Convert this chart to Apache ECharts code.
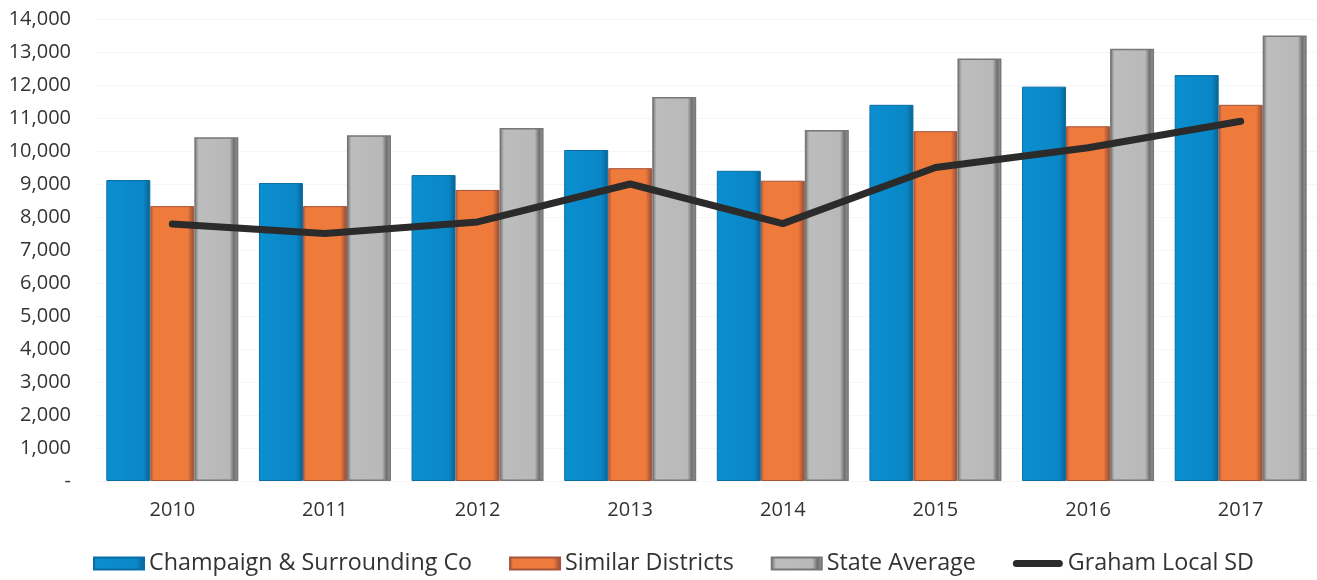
<!DOCTYPE html>
<html><head><meta charset="utf-8">
<script src="https://cdn.jsdelivr.net/npm/echarts@6/dist/echarts.min.js"></script>
<style>html,body{margin:0;padding:0;background:#fff}#c{width:1317px;height:580px}</style>
</head><body><div id="c"></div>
<script>
const categories = ['2010','2011','2012','2013','2014','2015','2016','2017'];
const champaign = [9120, 9030, 9270, 10030, 9400, 11400, 11950, 12300];
const similar = [8330, 8330, 8820, 9480, 9100, 10600, 10750, 11400];
const stateAvg = [10420, 10480, 10700, 11640, 10640, 12800, 13100, 13500];
const graham = [7790, 7500, 7850, 9000, 7800, 9500, 10100, 10900];
const yTicks = {min: 0, max: 14000, interval: 1000};

const chart = echarts.init(document.getElementById('c'));
const font = 'Open Sans';
chart.setOption({
  animation: false,
  textStyle: {fontFamily: font},
  grid: {left: 96, right: 0, top: 19, bottom: 99, containLabel: false},
  legend: {
    left: 88, top: 547, itemWidth: 50, itemHeight: 12, itemGap: 37,
    textStyle: {fontSize: 23.3, color: '#333', fontFamily: font},
    data: [
      {name: 'Champaign & Surrounding Co', icon: 'rect'},
      {name: 'Similar Districts', icon: 'rect'},
      {name: 'State Average', icon: 'rect'},
      {name: 'Graham Local SD',
        icon: 'path://M3.5,0 H46.5 A3.5,3.5 0 0 1 46.5,7 H3.5 A3.5,3.5 0 0 1 3.5,0 Z',
        itemStyle: {color: '#2b2b2b'}}
    ]
  },
  xAxis: {
    type: 'category', data: categories,
    axisLine: {show: false}, axisTick: {show: false},
    axisLabel: {fontSize: 20, color: '#333', margin: 19}
  },
  yAxis: {
    type: 'value', min: yTicks.min, max: yTicks.max, interval: yTicks.interval,
    splitLine: {show: true, lineStyle: {color: '#f6f6f6'}},
    axisLine: {show: false}, axisTick: {show: false},
    axisLabel: {fontSize: 20, color: '#333', margin: 25,
      formatter: v => v === 0 ? '-' : v.toLocaleString('en-US')}
  },
  series: [
    {name: 'Champaign & Surrounding Co', type: 'bar', data: champaign, barWidth: 44, barGap: '0%',
      itemStyle: {color: {type: 'linear', x: 0, y: 0, x2: 1, y2: 0, colorStops: [
        {offset: 0, color: '#0b8fd0'}, {offset: 0.85, color: '#0a86c6'}, {offset: 1, color: '#0a5f8c'}]},
        borderColor: '#0a6da3', borderWidth: 1}},
    {name: 'Similar Districts', type: 'bar', data: similar, barWidth: 44,
      itemStyle: {color: {type: 'linear', x: 0, y: 0, x2: 1, y2: 0, colorStops: [
        {offset: 0, color: '#b0563a'}, {offset: 0.08, color: '#ee7a3c'}, {offset: 0.85, color: '#ee7a3c'}, {offset: 1, color: '#8c4a3a'}]},
        borderColor: '#a5553a', borderWidth: 1}},
    {name: 'State Average', type: 'bar', data: stateAvg, barWidth: 44,
      itemStyle: {color: {type: 'linear', x: 0, y: 0, x2: 1, y2: 0, colorStops: [
        {offset: 0, color: '#6e6e6e'}, {offset: 0.1, color: '#bdbdbd'}, {offset: 0.8, color: '#b8b8b8'}, {offset: 0.9, color: '#6f6f6f'}, {offset: 1, color: '#a0a0a0'}]},
        borderColor: '#777', borderWidth: 1.5}},
    {name: 'Graham Local SD', type: 'line', data: graham, symbol: 'none', z: 5,
      lineStyle: {color: '#2b2b2b', width: 7, cap: 'round', join: 'round'}, itemStyle: {color: '#2b2b2b'}}
  ]
});
</script></body></html>
